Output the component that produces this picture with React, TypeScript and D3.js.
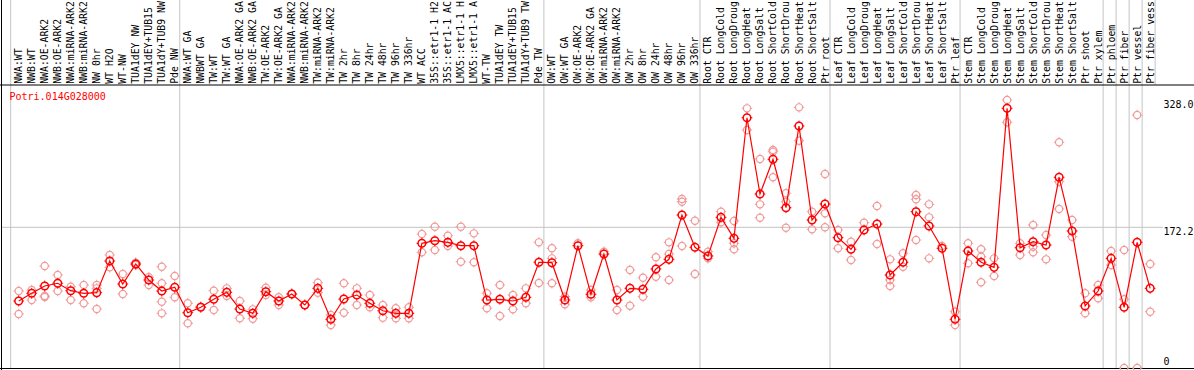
import React, { useEffect } from 'react';
import * as d3 from 'd3';

const geneId = 'Potri.014G028000';

const categories = [
  'NWA:WT', 'NWB:WT', 'NWA:OE-ARK2', 'NWB:OE-ARK2', 'NWA:miRNA-ARK2', 'NWB:miRNA-ARK2',
  'NW 0hr', 'WT H2O', 'WT-NW', 'TUA1dEY NW', 'TUA1dEY+TUB15 NW', 'TUA1dY+TUB9 NW', 'Pde NW',
  'NWA:WT GA', 'NWBWT GA', 'TW:WT', 'TW:WT GA', 'NWA:OE-ARK2 GA', 'NWB:OE-ARK2 GA', 'TW:OE-ARK2',
  'TW:OE-ARK2 GA', 'NWA:miRNA-ARK2 GA', 'NWB:miRNA-ARK2 GA', 'TW:miRNA-ARK2', 'TW:miRNA-ARK2 GA',
  'TW 2hr', 'TW 8hr', 'TW 24hr', 'TW 48hr', 'TW 96hr', 'TW 336hr', 'WT ACC',
  '35S::etr1-1 H2O', '35S::etr1-1 ACC', 'LMX5::etr1-1 H2O', 'LMX5::etr1-1 ACC', 'WT-TW',
  'TUA1dEY TW', 'TUA1dEY+TUB15 TW', 'TUA1dY+TUB9 TW', 'Pde TW',
  'OW:WT', 'OW:WT GA', 'OW:OE-ARK2', 'OW:OE-ARK2 GA', 'OW:miRNA-ARK2', 'OW:miRNA-ARK2 GA',
  'OW 2hr', 'OW 8hr', 'OW 24hr', 'OW 48hr', 'OW 96hr', 'OW 336hr',
  'Root CTR', 'Root LongCold', 'Root LongDrought', 'Root LongHeat', 'Root LongSalt',
  'Root ShortCold', 'Root ShortDrought', 'Root ShortHeat', 'Root ShortSalt', 'Ptr root',
  'Leaf CTR', 'Leaf LongCold', 'Leaf LongDrought', 'Leaf LongHeat', 'Leaf LongSalt',
  'Leaf ShortCold', 'Leaf ShortDrought', 'Leaf ShortHeat', 'Leaf ShortSalt', 'Ptr leaf',
  'Stem CTR', 'Stem LongCold', 'Stem LongDrought', 'Stem LongHeat', 'Stem LongSalt',
  'Stem ShortCold', 'Stem ShortDrought', 'Stem ShortHeat', 'Stem ShortSalt', 'Ptr shoot',
  'Ptr xylem', 'Ptr phloem', 'Ptr fiber', 'Ptr vessel', 'Ptr fiber vessel',
];

const means = [
  82.0, 91.4, 100.4, 103.7, 94.6, 91.4, 92.2, 130.9, 102.8, 127.3, 107.7, 94.2, 98.8,
  67.7, 74.3, 84.1, 92.6, 72.2, 66.9, 93.4, 82.0, 90.6, 77.1, 97.5, 59.6,
  84.4, 89.3, 79.2, 70.1, 66.9, 66.9, 152.6, 155.8, 153.8, 149.7, 149.7, 83.2,
  84.1, 82.0, 86.5, 129.4,
  128.9, 83.2, 149.7, 90.2, 139.5, 83.2, 97.5, 96.3, 121.2, 133.0, 187.2, 147.7,
  137.1, 184.4, 158.7, 306.3, 212.9, 255.4, 196.2, 296.2, 181.1, 200.7,
  159.5, 145.3, 168.9, 176.2, 113.8, 129.4, 191.3, 173.8, 146.5, 59.6,
  143.2, 129.4, 123.2, 317.8, 147.2, 154.6, 150.5, 233.4, 167.7, 75.9,
  94.2, 134.2, 74.3, 153.8, 97.5,
];

const replicates = [
  [94.2, 66.1], [95.5, 83.2], [124.8, 88.1, 86.9], [113.8, 94.2], [99.5, 83.2],
  [101.6, 79.2], [101.6, 97.5, 72.2], [138.3, 123.2], [115.0, 90.6], [129.0, 126.0],
  [111.0, 101.6], [124.0, 103.7, 81.1, 66.9], [112.6, 86.5],
  [79.2, 54.7], [75.0], [94.6, 71.0], [97.5, 88.1], [82.0, 60.8], [71.8, 60.3],
  [98.3, 89.3], [86.5, 77.1], [90.6], [77.1], [104.4, 92.2], [64.9, 52.6],
  [103.7, 67.7], [97.5, 77.1], [89.3, 74.3], [77.1, 61.6], [73.1, 60.8], [74.3, 60.8],
  [164.0, 141.6], [172.9, 144.4], [161.9, 149.3], [172.9, 130.1], [164.8, 129.4],
  [91.4, 73.1], [101.6, 63.6], [89.3, 71.8], [97.5, 79.2], [153.8, 104.0],
  [146.5, 134.2, 103.7], [87.3, 78.0], [152.6], [95.5, 86.5], [142.3], [95.5, 71.0],
  [119.9, 76.2], [110.5, 87.3], [135.5, 111.7], [153.8, 139.5, 107.7],
  [206.8, 203.5, 149.3], [180.3, 115.0],
  [142.3, 134.2], [191.3, 178.3], [179.9, 152.6, 145.3], [317.8, 291.3],
  [255.8, 200.3, 183.9], [266.8, 264.7, 233.4], [213.8, 203.5, 171.7], [319.0, 278.2],
  [191.3, 169.7], [237.4, 189.3, 172.2],
  [168.9, 146.5], [154.6, 132.2], [177.8], [198.3, 151.7], [133.0, 107.7, 100.4],
  [140.4, 124.0], [211.7, 206.5, 156.6], [200.3, 184.4, 134.2], [149.3], [68.9, 52.6],
  [152.6, 128.1], [145.3, 136.2, 104.9], [134.2, 112.6], [328.0, 300.7], [152.6, 138.3],
  [175.0, 148.4, 141.6], [162.8, 133.0], [276.2, 228.0, 194.6], [181.1, 160.7],
  [91.4, 66.9], [101.6, 85.3], [143.2, 126.1], [144.4, 84.1, 0], [309.6, 0], [127.3, 68.9],
];

// first category index of each group (vertical separators)
const groupStarts = [0, 13, 41, 53, 63, 73, 84, 85, 86, 87];
const headerOnlyBreaks = [88];
const yTickValues = [328.0, 172.2, 0];
const labelMaxChars = 14;

const RED = '#ff0000';
const PINK = '#f09a9a';
const GRID = '#c4c4c4';
const FONT = '"DejaVu Sans Mono", "Liberation Mono", monospace';

function Marker({ cx, cy, color, r, sw }: { cx: number; cy: number; color: string; r: number; sw: number }) {
  const t = r + 1.6;
  return (
    <g stroke={color} strokeWidth={sw} fill="none">
      <circle cx={cx} cy={cy} r={r} />
      <line x1={cx} y1={cy - r} x2={cx} y2={cy - t} strokeWidth={1} />
      <line x1={cx} y1={cy + r} x2={cx} y2={cy + t} strokeWidth={1} />
      <line x1={cx - r} y1={cy} x2={cx - t} y2={cy} strokeWidth={1} />
      <line x1={cx + r} y1={cy} x2={cx + t} y2={cy} strokeWidth={1} />
    </g>
  );
}

export default function App() {
  useEffect(() => {
    document.body.style.margin = '0';
  }, []);

  const W = 1194;
  const H = 370;
  const headerY = 85;
  const bottomY = 368.5;
  const step = 13.005;
  const x0 = 10.7;

  const x = d3
    .scaleBand<number>()
    .domain(d3.range(categories.length))
    .range([x0, x0 + categories.length * step])
    .padding(0);
  const px = (i: number) => (x(i) as number) + 8;
  const bandStart = (k: number) => x0 + k * step;

  const y = d3.scaleLinear().domain([0, 328]).range([368, 100]);

  const linePath = d3
    .line<number>()
    .x((_, i) => px(i))
    .y((d) => y(d))(means) as string;

  return (
    <svg
      width={W}
      height={H}
      style={{ position: 'absolute', left: 0, top: 0, background: '#fff', overflow: 'hidden' }}
      fontFamily={FONT}
    >
      <rect x={0} y={0} width={W} height={H} fill="#fff" />
      {/* vertical separators */}
      {groupStarts.map((k) => (
        <line key={'g' + k} x1={bandStart(k)} x2={bandStart(k)} y1={0} y2={bottomY} stroke={GRID} strokeWidth={1} />
      ))}
      {headerOnlyBreaks.map((k) => (
        <line key={'h' + k} x1={bandStart(k)} x2={bandStart(k)} y1={0} y2={headerY} stroke={GRID} strokeWidth={1} />
      ))}
      {/* horizontal grid at 172.2 */}
      <line x1={2} x2={1163} y1={y(172.2)} y2={y(172.2)} stroke={GRID} strokeWidth={1} />

      {/* category labels (truncated as in the original) */}
      {categories.map((c, i) => (
        <text
          key={'l' + i}
          transform={`translate(${px(i) + 3.5},83.8) rotate(-90)`}
          fontSize={9.8}
          fill="#000"
        >
          {c.slice(0, labelMaxChars).trimEnd()}
        </text>
      ))}

      {/* borders */}
      <line x1={0} x2={W} y1={headerY} y2={headerY} stroke="#000" strokeWidth={1} />
      <line x1={1.5} x2={1.5} y1={0} y2={H} stroke="#000" strokeWidth={1} />
      <line x1={0} x2={W} y1={bottomY} y2={bottomY} stroke="#000" strokeWidth={1} />

      {/* gene id */}
      <text x={9.5} y={99.5} fontSize={10} fill={RED}>
        {geneId}
      </text>

      {/* y tick labels */}
      {yTickValues.map((v) => {
        const yy = y(v);
        const baseline = v === 0 ? yy - 3 : yy + 7.8;
        return (
          <text key={'t' + v} x={1163.5} y={baseline} fontSize={10} fill="#000">
            {v === 0 ? '0' : v.toFixed(1)}
          </text>
        );
      })}

      {/* replicates */}
      {replicates.map((arr, i) =>
        arr.map((v, j) => <Marker key={`r${i}-${j}`} cx={px(i)} cy={y(v)} color={PINK} r={3.6} sw={1.2} />)
      )}

      {/* mean line */}
      <path d={linePath} fill="none" stroke={RED} strokeWidth={1.2} />

      {/* mean markers */}
      {means.map((v, i) => (
        <Marker key={'m' + i} cx={px(i)} cy={y(v)} color={RED} r={3.8} sw={1.5} />
      ))}
    </svg>
  );
}
